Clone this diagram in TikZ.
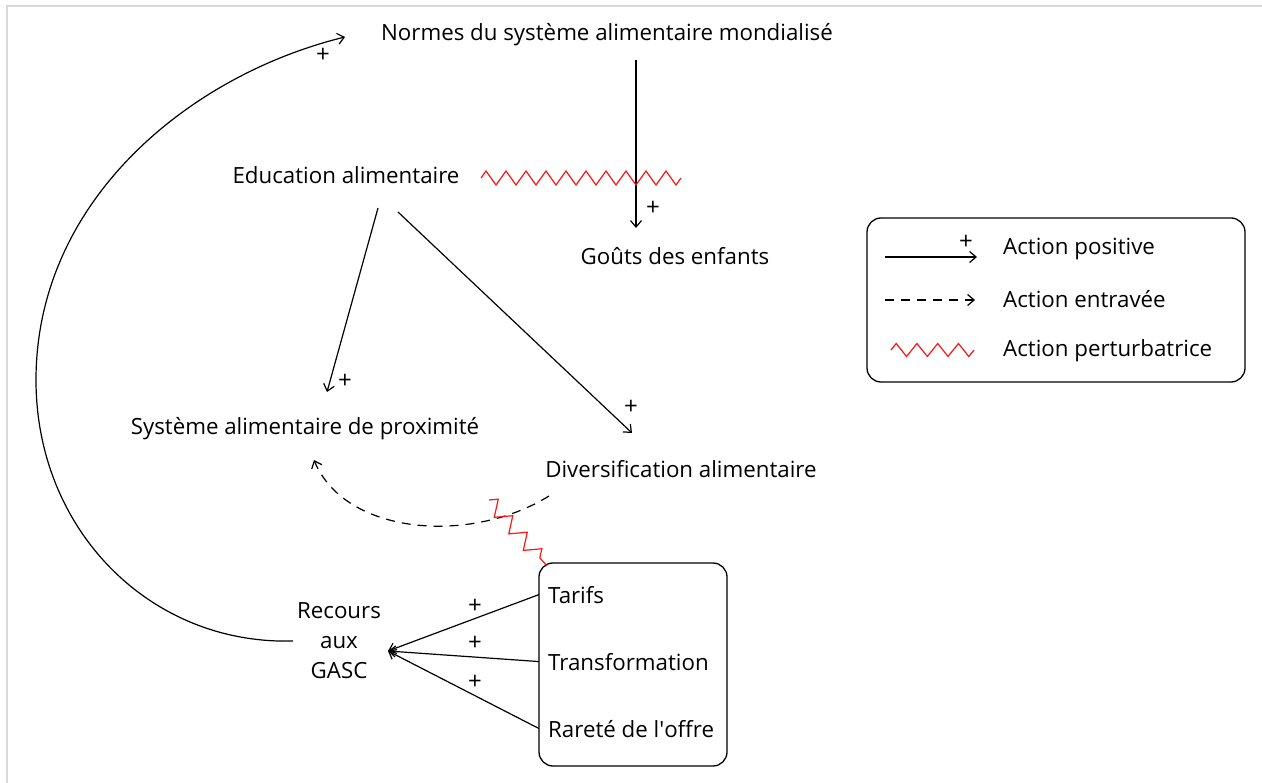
\documentclass[tikz,border=0pt]{standalone}
\usepackage{fontspec}
\setmainfont{Open Sans}
\usetikzlibrary{positioning,arrows.meta,decorations.pathmorphing}
\definecolor{FrameGray}{RGB}{217,217,217}
\definecolor{PerturbRed}{RGB}{255,20,20}

\begin{document}
\begin{tikzpicture}[x=1pt,y=-1pt,
lbl/.style={font=\fontsize{22.3}{30}\selectfont,inner sep=4pt},
plus/.style={font=\fontsize{24}{24}\selectfont,inner sep=0pt},
frame/.style={rectangle,rounded corners=14pt,draw,line width=1.3pt},
arrow/.style={-{Straight Barb[length=6.5pt,width=11pt]},line width=1.2pt},
hinder/.style={arrow,dash pattern=on 9pt off 7pt},
perturb/.style={draw=PerturbRed,line width=1.2pt,decorate,decoration={zigzag,segment length=20pt,amplitude=7pt}}
]
\useasboundingbox (0,0) rectangle (1262,783);
\draw[FrameGray,line width=2pt] (7,783) -- (7,6) -- (1262,6);

\node[lbl,anchor=base] (normes) at (607,41) {Normes du système alimentaire mondialisé};
\node[lbl,anchor=base] (edu) at (346,184) {Education alimentaire};
\node[lbl,anchor=base] (gouts) at (675,265) {Goûts des enfants};
\node[lbl,anchor=base] (sap) at (305,435) {Système alimentaire de proximité};
\node[lbl,anchor=base] (diversif) at (681,478) {Diversification alimentaire};
\node[lbl,align=center] (gasc) at (339,641) {Recours\\aux\\GASC};

\node[frame,minimum width=188pt,minimum height=203pt] (offre) at (633,664.5) {};
\node[lbl,anchor=base west,inner xsep=9pt] (tarifs) at (539,603) {Tarifs};
\node[lbl,anchor=base west,inner xsep=9pt] (transfo) at (539,670) {Transformation};
\node[lbl,anchor=base west,inner xsep=9pt] (rarete) at (539,737) {Rareté de l\textquotesingle offre};

\coordinate (normesout) at (636,60); \coordinate (goutsin) at (636,228);
\coordinate (eduout1) at (378,208); \coordinate (sapin) at (327,392);
\coordinate (eduout2) at (398,212); \coordinate (diversifin) at (632,433);
\coordinate (diversifout) at (549,496); \coordinate (sapin2) at (314,460);
\coordinate (gascin) at (388,651); \coordinate (normesin) at (345,37);

\draw[arrow] (normesout) -- (goutsin);
\draw[arrow] (eduout1) -- (sapin);
\draw[arrow] (eduout2) -- (diversifin);
\draw[hinder] (diversifout) .. controls (470,545) and (345,535) .. (sapin2);
\draw[arrow] (tarifs.west) -- (gascin); \draw[arrow] (transfo.west) -- (gascin); \draw[arrow] (rarete.west) -- (gascin);
\draw[arrow] (gasc.west) .. controls (150,645) and (36,530) .. (36,380) .. controls (36,200) and (190,75) .. (normesin);

\draw[perturb] (481,178) -- (681,178);
\draw[perturb,decoration={segment length=22pt,amplitude=7.5pt}] (489,500) -- (547,566);

\node[plus] (plus1) at (323,55) {+};
\node[plus] (plus2) at (653,208) {+};
\node[plus] (plus3) at (345,381) {+};
\node[plus] (plus4) at (631,407) {+};
\node[plus] (plus5) at (475,606) {+};
\node[plus] (plus6) at (475,643) {+};
\node[plus] (plus7) at (475,682) {+};

\node[frame,minimum width=378pt,minimum height=164pt] (legende) at (1056,300) {};
\node[lbl,anchor=base west] (lpos) at (999,255) {Action positive};
\node[lbl,anchor=base west] (lent) at (999,308) {Action entravée};
\node[lbl,anchor=base west] (lpert) at (999,357) {Action perturbatrice};
\coordinate (lpos1) at (885,257); \coordinate (lpos2) at (977,257);
\coordinate (lent1) at (885,300); \coordinate (lent2) at (975,300);
\draw[arrow] (lpos1) -- (lpos2);
\node[plus] (lplus) at (966,242) {+};
\draw[hinder] (lent1) -- (lent2);
\draw[perturb,decoration={segment length=20.75pt,amplitude=6.5pt}] (891,350) -- (974,350);
\end{tikzpicture}
\end{document}
